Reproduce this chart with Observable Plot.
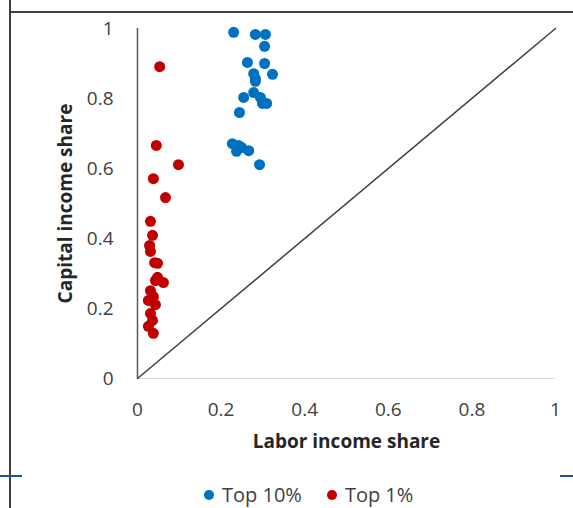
<!DOCTYPE html>
<html>
<head>
<meta charset="utf-8">
<script src="https://cdn.jsdelivr.net/npm/d3@7"></script>
<script src="https://cdn.jsdelivr.net/npm/@observablehq/plot@0.6"></script>
<style>
  html, body { margin: 0; padding: 0; background: #fff; overflow: hidden; }
  body { width: 573px; height: 508px; position: relative; font-family: "Open Sans", "DejaVu Sans", sans-serif; }
  #chart { position: absolute; left: 0; top: 0; }
  .frame { position: absolute; background: #404040; }
  .blue { position: absolute; background: #2255a0; }
  #legend { position: absolute; left: 204px; top: 485px; display: flex; gap: 25px; font-size: 20px; line-height: 20px; color: #404040; white-space: nowrap; }
  #legend span.item { display: flex; align-items: center; gap: 8px; }
  #legend span.dot { width: 10px; height: 10px; border-radius: 50%; display: inline-block; }
</style>
</head>
<body>
<div id="chart"></div>
<div class="frame" style="left:9px; top:0; width:1.5px; height:508px;"></div>
<div class="frame" style="left:9px; top:11px; width:564px; height:1.5px;"></div>
<div class="blue" style="left:0; top:475px; width:22px; height:2px;"></div>
<div class="blue" style="left:560px; top:475px; width:13px; height:2px;"></div>
<div id="legend"></div>
<script>
// Top 10% series (labor share, capital share)
const top10Labor = [0.230, 0.282, 0.306, 0.304, 0.263, 0.304, 0.323, 0.278, 0.282, 0.282, 0.278, 0.254, 0.294, 0.299, 0.309, 0.244, 0.227, 0.242, 0.249, 0.237, 0.266, 0.292];
const top10Capital = [0.989, 0.983, 0.983, 0.949, 0.903, 0.900, 0.869, 0.871, 0.857, 0.849, 0.817, 0.803, 0.803, 0.786, 0.786, 0.760, 0.671, 0.666, 0.660, 0.649, 0.651, 0.611];
// Top 1% series
const top1Labor = [0.053, 0.045, 0.098, 0.038, 0.067, 0.031, 0.036, 0.029, 0.031, 0.041, 0.048, 0.048, 0.043, 0.062, 0.031, 0.038, 0.026, 0.043, 0.031, 0.036, 0.026, 0.038];
const top1Capital = [0.891, 0.666, 0.611, 0.571, 0.517, 0.449, 0.409, 0.380, 0.363, 0.331, 0.329, 0.289, 0.280, 0.274, 0.251, 0.234, 0.223, 0.211, 0.186, 0.166, 0.149, 0.129];
const seriesNames = ["Top 10%", "Top 1%"];
const seriesColors = ["#0070C0", "#C00000"];
const axisTicks = [0, 0.2, 0.4, 0.6, 0.8, 1];
const diagonal = [[0, 0], [1, 1]];

const points = [
  ...top10Labor.map((x, i) => ({x, y: top10Capital[i], s: seriesNames[0]})),
  ...top1Labor.map((x, i) => ({x, y: top1Capital[i], s: seriesNames[1]}))
];

const fmt = d => d === 0 ? "0" : d === 1 ? "1" : String(d);

const chart = Plot.plot({
  width: 573,
  height: 485,
  marginLeft: 137,
  marginRight: 18,
  marginTop: 28,
  marginBottom: 107,
  style: { fontFamily: "'Open Sans', sans-serif", fontSize: "19px", color: "#404040", background: "transparent" },
  x: { domain: [0, 1], ticks: axisTicks, tickFormat: fmt, label: null },
  y: { domain: [0, 1], ticks: axisTicks, tickFormat: fmt, label: null },
  color: { domain: seriesNames, range: seriesColors },
  marks: [
    Plot.axisX({ticks: axisTicks, tickFormat: fmt, tickSize: 0, tickPadding: 24, label: null, fontSize: 19, fill: "#404040"}),
    Plot.axisY({ticks: axisTicks, tickFormat: fmt, tickSize: 0, tickPadding: 24, label: null, fontSize: 19, fill: "#404040"}),
    Plot.ruleY([0], {stroke: "#d9d9d9", strokeWidth: 1}),
    Plot.ruleX([0], {stroke: "#595959", strokeWidth: 1.5}),
    Plot.line(diagonal, {x: d => d[0], y: d => d[1], stroke: "#404040", strokeWidth: 1.5}),
    Plot.dot(points, {x: "x", y: "y", fill: "s", r: 5.5, stroke: null}),
    Plot.text(["Labor income share"], {frameAnchor: "bottom", dy: 69, text: d => d, fontWeight: "bold", fontSize: 19, fill: "#262626"}),
    Plot.text(["Capital income share"], {frameAnchor: "left", dx: -72, rotate: -90, textAnchor: "middle", lineAnchor: "middle", text: d => d, fontWeight: "bold", fontSize: 19, fill: "#262626"})
  ]
});
document.getElementById("chart").appendChild(chart);

const legend = document.getElementById("legend");
seriesNames.forEach((name, i) => {
  const item = document.createElement("span");
  item.className = "item";
  const dot = document.createElement("span");
  dot.className = "dot";
  dot.style.background = seriesColors[i];
  item.appendChild(dot);
  item.appendChild(document.createTextNode(name));
  legend.appendChild(item);
});
</script>
</body>
</html>
